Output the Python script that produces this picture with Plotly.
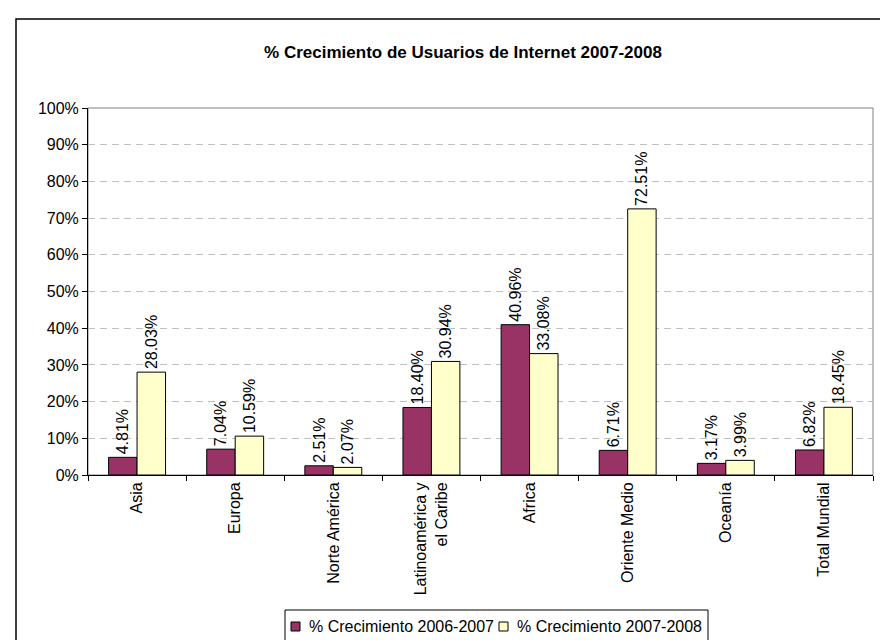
import plotly.graph_objects as go

regiones = ["Asia", "Europa", "Norte América", "Latinoamérica y<br>el Caribe", "Africa",
            "Oriente Medio", "Oceanía", "Total Mundial"]
series = ["% Crecimiento 2006-2007", "% Crecimiento 2007-2008"]
crec_2006_2007 = [4.81, 7.04, 2.51, 18.40, 40.96, 6.71, 3.17, 6.82]
crec_2007_2008 = [28.03, 10.59, 2.07, 30.94, 33.08, 72.51, 3.99, 18.45]
colores = ["#993366", "#FFFFCC"]
y_ticks = list(range(0, 101, 10))

font = "Liberation Sans, Arial, sans-serif"

# plot area in pixels: x 80-865, y 100-467
L, R, T, B = 80, 865, 100, 467
W, H = R - L, B - T


def px(x):
    return (x - L) / W


def py(y):
    return (B - y) / H


fig = go.Figure()
for nombre, vals, color in zip(series, [crec_2006_2007, crec_2007_2008], colores):
    fig.add_trace(go.Bar(
        x=regiones, y=vals, name=nombre, showlegend=False,
        marker=dict(color=color, line=dict(color="black", width=1)),
        text=[f"{v:.2f}%" for v in vals], textposition="outside", textangle=-90,
        constraintext="none", cliponaxis=False,
        textfont=dict(family=font, size=16, color="black"),
    ))

shapes = [
    # plot area border
    dict(type="rect", xref="paper", yref="paper", x0=0, x1=1, y0=0, y1=1,
         line=dict(color="#808080", width=1), layer="below"),
    # chart border
    dict(type="rect", xref="paper", yref="paper", x0=px(8), x1=px(884),
         y0=py(637), y1=py(11), line=dict(color="black", width=1.5)),
    # legend box
    dict(type="rect", xref="paper", yref="paper", x0=px(277), x1=px(700),
         y0=py(634), y1=py(602), line=dict(color="black", width=1), fillcolor="white"),
]
annotations = []
# legend entries (marker square + label)
for nombre, color, mx in zip(series, colores, [283, 491]):
    shapes.append(dict(type="rect", xref="paper", yref="paper", x0=px(mx), x1=px(mx + 9),
                       y0=py(623), y1=py(614), fillcolor=color,
                       line=dict(color="black", width=1)))
    annotations.append(dict(text=nombre, xref="paper", yref="paper", x=px(mx + 16), y=py(618.5),
                            xanchor="left", yanchor="middle", showarrow=False,
                            font=dict(family=font, size=16, color="black")))

fig.update_layout(
    width=888, height=640,
    margin=dict(l=L, r=888 - R, t=T, b=640 - B, autoexpand=False),
    paper_bgcolor="white", plot_bgcolor="white",
    barmode="group", bargap=0.42, bargroupgap=0,
    title=dict(text="<b>% Crecimiento de Usuarios de Internet 2007-2008</b>",
               x=px(455), xanchor="center", xref="paper", y=1 - 44 / 640, yanchor="middle",
               font=dict(family=font, size=17, color="black")),
    font=dict(family=font, size=16, color="black"),
    shapes=shapes,
    annotations=annotations,
)
fig.update_yaxes(range=[0, 100], tickvals=y_ticks, ticktext=[f"{t}%" for t in y_ticks],
                 showgrid=True, gridcolor="#C0C0C0", griddash="7px,5px", gridwidth=1,
                 showline=True, linecolor="black", ticks="outside", ticklen=5,
                 tickcolor="black", zeroline=False, tickfont=dict(size=16),
                 automargin=False)
fig.update_xaxes(tickangle=-90, showline=True, linecolor="black", ticks="outside",
                 tickson="boundaries", ticklen=5, tickcolor="black",
                 tickfont=dict(size=16), automargin=False)

fig.write_html("out.html")
